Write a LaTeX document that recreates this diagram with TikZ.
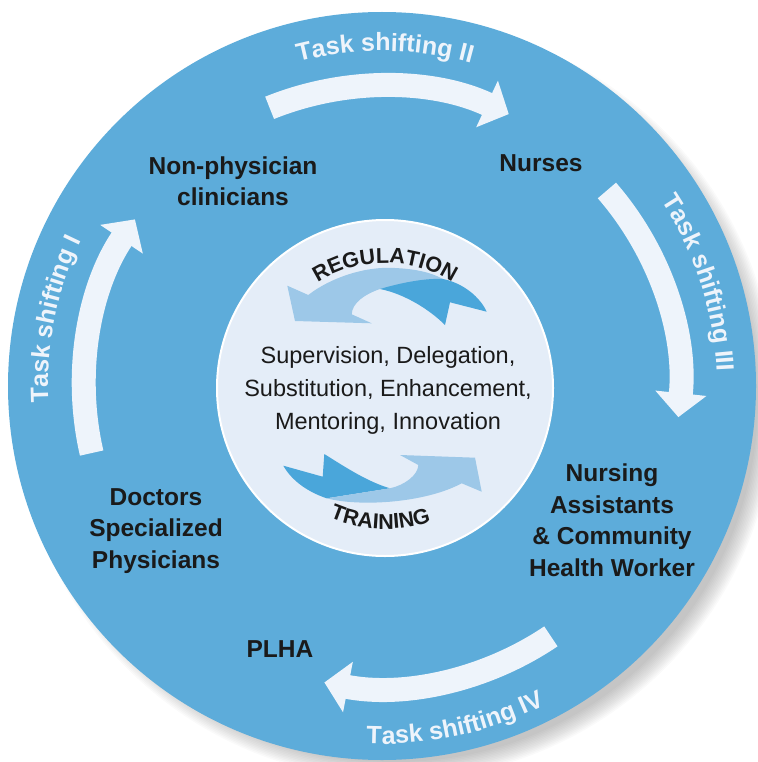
\documentclass[tikz,border=0pt]{standalone}
\usepackage{fontspec}
\setmainfont{Liberation Sans}
\usepackage{tikz}
\usetikzlibrary{arrows.meta}
\usetikzlibrary{decorations.text}

\definecolor{ringblue}{HTML}{5DACDA}
\definecolor{corelight}{HTML}{E4EDF8}
\definecolor{arrowwhite}{HTML}{EEF4FB}
\definecolor{swooshlight}{HTML}{9DC8E8}
\definecolor{swooshdark}{HTML}{4AA6DA}
\definecolor{inkdark}{HTML}{1A1A1A}

\newcommand{\rolefont}{\fontsize{24.5}{31.5}\selectfont\bfseries}
\newcommand{\shiftfont}{\fontsize{25}{30}\selectfont\bfseries}
\newcommand{\capsfont}{\fontsize{21.5}{26}\selectfont\bfseries}
\newcommand{\modefont}{\fontsize{23.5}{33}\selectfont}

\begin{document}
\begin{tikzpicture}[x=1pt,y=-1pt]
    \tikzstyle{role}=[align=center,text=inkdark,font=\rolefont]
    \tikzstyle{shift arrow}=[arrowwhite,line width=24pt,-{Triangle[length=24pt,width=50pt]}]
    \tikzstyle{shift label}=[decorate,decoration={text along path,text align=center,text color=arrowwhite}]
    \tikzstyle{core label}=[decorate,decoration={text along path,text align=center,text color=inkdark}]

    \useasboundingbox (0,0) rectangle (757,762);

    % soft shadow (down right) and the two discs
    \foreach \k in {0,...,12}
        \fill[black,opacity=0.02] (396,400) circle ({362pt+1.5pt*\k});
    \fill[ringblue] (382,386) circle (374pt);
    \filldraw[fill=corelight,draw=white,line width=2pt] (385,388) circle (168pt);

    % task shifting arrows and their labels
    \begin{scope}[shift={(382,386)},y=1pt]
        \draw[shift arrow] (193:298pt) arc[start angle=193,end angle=146,radius=298pt];
        \draw[shift arrow] (112:300pt) arc[start angle=112,end angle=65,radius=300pt];
        \draw[shift arrow] (41:298pt) arc[start angle=41,end angle=-6,radius=298pt];
        \draw[shift arrow] (-56:302pt) arc[start angle=-56,end angle=-101,radius=302pt];

        \path[shift label,decoration={text={|\shiftfont|Task shifting I}}]
            (198.5:334pt) arc[start angle=198.5,end angle=138.5,radius=334pt];
        \path[shift label,decoration={text={|\shiftfont|Task shifting II}}]
            (119.5:335pt) arc[start angle=119.5,end angle=59.5,radius=335pt];
        \path[shift label,decoration={text={|\shiftfont|Task shifting III}}]
            (48:335pt) arc[start angle=48,end angle=-12,radius=335pt];
        \path[shift label,decoration={text={|\shiftfont|Task shifting IV}}]
            (-107.7:358pt) arc[start angle=-107.7,end angle=-47.7,radius=358pt];
    \end{scope}

    % roles
    \node[role] (npc) at (233,181) {Non-physician\\clinicians};
    \node[role] (nurses) at (541,163) {Nurses};
    \node[role] (nacw) at (612,520) {Nursing\\Assistants\\\& Community\\Health Worker};
    \node[role] (plha) at (280,649) {PLHA};
    \node[role] (doctors) at (156,531) {Doctors\\Specialized\\Physicians};

    % regulation swoosh
    \fill[swooshlight] (287.3,285.7) -- (308.3,295) .. controls (330,278) and (365,266) .. (395,268)
        .. controls (415,269) and (430,272) .. (443,279) -- (380,289)
        .. controls (365,294) and (352,303) .. (351.7,314.3) -- (371.7,323.3) -- (295,321) -- cycle;
    \fill[swooshdark] (380,289) .. controls (400,283) and (425,278) .. (443,279)
        .. controls (463,283) and (480,297) .. (486.7,311.7) -- (450,302.3) -- (445,325)
        .. controls (430,310) and (405,294) .. (380,289) -- cycle;

    % training swoosh
    \fill[swooshdark] (283.3,465.7) -- (322.7,476.7) -- (324.3,454)
        .. controls (345,467) and (368,482) .. (390,488.3) -- (326.7,498.3)
        .. controls (308,492) and (292,481) .. (283.3,465.7) -- cycle;
    \fill[swooshlight] (326.7,498.3) .. controls (360,507) and (425,503) .. (461.7,483.3)
        -- (481.7,491.7) -- (475,457.7) -- (400,455) -- (418.3,465)
        .. controls (418,475) and (405,485) .. (390,488.3) -- cycle;

    \begin{scope}[shift={(385,388)},y=1pt]
        \path[core label,decoration={text={|\capsfont|REGULATION}}]
            (140:125pt) arc[start angle=140,end angle=40,radius=125pt];
        \path[core label,decoration={text={|\capsfont|TRAINING}}]
            (-142:141pt) arc[start angle=-142,end angle=-42,radius=141pt];
    \end{scope}

    \node[font=\modefont,text=inkdark,align=center] (modes) at (388,390)
        {Supervision, Delegation,\\Substitution, Enhancement,\\Mentoring, Innovation};
\end{tikzpicture}
\end{document}
